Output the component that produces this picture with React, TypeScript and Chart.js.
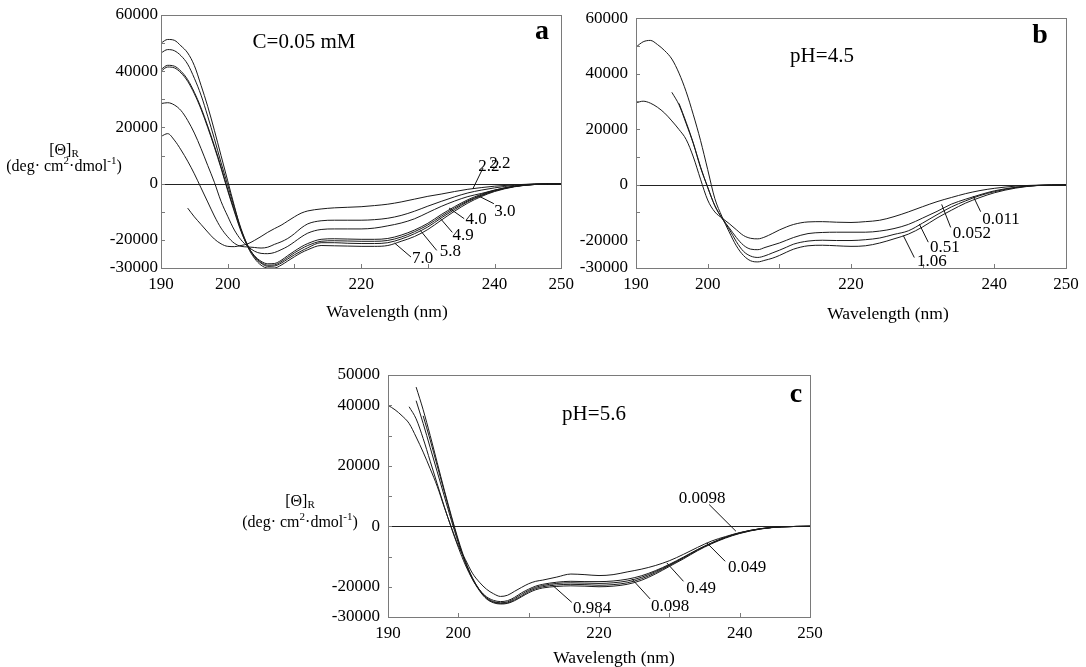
import React, { useEffect, useRef } from "react";
import { Chart, registerables } from "chart.js";

Chart.register(...registerables);

const FONT = "'Liberation Serif', 'Times New Roman', serif";

// Shared wavelength grid (nm)
const WAVELENGTH = [190, 191, 192, 193, 194, 195, 196, 197, 198, 199, 200, 201, 202, 203, 204, 205, 206, 207, 208, 209, 210, 211, 212, 214, 216, 218, 220, 222, 224, 226, 228, 230, 232, 234, 236, 238, 240, 243, 246, 250];

const X_TICK_LABELS = [190, 200, 220, 240, 250];
const Y_TICK_LABELS_AB = [60000, 40000, 20000, 0, -20000, -30000];
const Y_TICK_LABELS_C = [50000, 40000, 20000, 0, -20000, -30000];

// ---------- Panel a: C = 0.05 mM, different pH ----------
const A_PH22 = [null, null, null, null, -8700, -11800, -14500, -17200, -19700, -21400, -22300, -22400, -22000, -21400, -20200, -18800, -17300, -16000, -14800, -13300, -11800, -10500, -9700, -9000, -8600, -8400, -8200, -7800, -7300, -6500, -5500, -4500, -3700, -2800, -2000, -1400, -900, -400, -100, 0];
const A_PH22B = [16800, 17800, 15500, 12000, 8000, 3500, -1500, -6500, -11500, -15800, -18900, -21200, -22300, -22500, -22700, -22900, -22600, -21600, -20700, -19500, -17800, -15800, -14300, -13200, -13000, -13000, -13000, -12800, -12300, -11300, -9800, -8000, -6300, -4700, -3300, -2300, -1500, -600, -150, 0];
const A_PH30 = [28500, 28800, 28000, 26000, 22500, 18000, 12500, 6500, 500, -6300, -11600, -16500, -20000, -22300, -24000, -24800, -24900, -24500, -23500, -22300, -20700, -19000, -17600, -16300, -16100, -16100, -16100, -15800, -15000, -14000, -12500, -10300, -8100, -6200, -4600, -3500, -2300, -900, -200, 0];
const A_PH40 = [40000, 41500, 41200, 39400, 36400, 32000, 26500, 20000, 13000, 5500, -2500, -10000, -17000, -22200, -25600, -27600, -28500, -28400, -27300, -25600, -24000, -22500, -21300, -19800, -19600, -19700, -19800, -19800, -19500, -18300, -16500, -14100, -11000, -8200, -5700, -3800, -2300, -900, -250, 0];
const A_PH49 = [40600, 42100, 41800, 40000, 37000, 32500, 27000, 20500, 13500, 6000, -2000, -9500, -16500, -22000, -25800, -28000, -29000, -28900, -27800, -26200, -24600, -23200, -22000, -20500, -20300, -20400, -20500, -20500, -20200, -19000, -17100, -14700, -11600, -8700, -6100, -4100, -2500, -950, -280, 0];
const A_PH58 = [46500, 47700, 47300, 45500, 42500, 37500, 31500, 24000, 16000, 7500, -500, -8500, -16000, -22000, -26000, -28300, -29400, -29300, -28300, -26800, -25300, -24000, -22800, -21000, -21000, -21200, -21300, -21300, -21000, -19700, -17800, -15400, -12200, -9200, -6400, -4300, -2600, -1000, -300, 0];
const A_PH70 = [50000, 51300, 51000, 49000, 46500, 42000, 35000, 27500, 19000, 10000, 1000, -8000, -16500, -22500, -26500, -29000, -30000, -30000, -29000, -27500, -26000, -24600, -23500, -22000, -22100, -22200, -22300, -22300, -22000, -20500, -18800, -16300, -13000, -9800, -6900, -4600, -2800, -1100, -300, 0];

const A_LABELS = [
  { text: "2.2", x: 239.16, y: 6050 },
  { text: "2.2", x: 240.79, y: 7118 },
  { text: "3.0", x: 241.54, y: -9965 },
  { text: "4.0", x: 237.23, y: -12812 },
  { text: "4.9", x: 235.3, y: -18507 },
  { text: "5.8", x: 233.37, y: -24201 },
  { text: "7.0", x: 229.21, y: -26693 },
];
const A_LEADERS = [
  [236.74, -1886, 238.27, 5588],
  [237.82, -4627, 239.9, -7118],
  [233.18, -8648, 235.45, -12457],
  [231.69, -11851, 233.67, -17332],
  [228.87, -16620, 231.33, -23738],
  [225.01, -21105, 227.47, -26087],
];

// ---------- Panel b: pH 4.5, different concentrations ----------
const B_C0011 = [29500, 30100, 29400, 27900, 25800, 23000, 19900, 16300, 10000, 2000, -5500, -9800, -12000, -14000, -16200, -18300, -19300, -19500, -18800, -17600, -16300, -15200, -14300, -13400, -13300, -13500, -13600, -13300, -12800, -11500, -9800, -7900, -6100, -4600, -3200, -2100, -1300, -500, -150, 0];
const B_C0052 = [null, null, null, null, null, null, 29300, 22500, 15000, 6500, -1000, -7500, -12000, -15500, -19000, -21800, -23200, -23400, -22600, -21800, -21000, -20000, -19000, -17600, -17200, -17100, -17100, -17100, -16700, -15800, -14300, -12000, -9600, -7000, -5200, -3600, -2200, -900, -250, 0];
const B_C051 = [null, null, null, null, null, 33300, 28800, 22000, 14800, 6200, -800, -7600, -12100, -16000, -20500, -24000, -25700, -26200, -25600, -24600, -23600, -22500, -21400, -20300, -20000, -20100, -20100, -19800, -19200, -17900, -16600, -13800, -10800, -8000, -5800, -3900, -2500, -1000, -250, 0];
const B_C106 = [49600, 51500, 52000, 50500, 48300, 45300, 40200, 33500, 25200, 16000, 5500, -5000, -11500, -17000, -22000, -25500, -27400, -27800, -27200, -26500, -25500, -24300, -23200, -22000, -21800, -22000, -22200, -22000, -21000, -19500, -17800, -15200, -12000, -9200, -6600, -4600, -2900, -1200, -300, 0];

const B_LABELS = [
  { text: "0.011", x: 240.93, y: -12652 },
  { text: "0.052", x: 236.88, y: -17614 },
  { text: "0.51", x: 233.11, y: -22576 },
  { text: "1.06", x: 231.3, y: -27538 },
];
const B_LEADERS = [
  [237.06, -4147, 238.09, -9711],
  [232.65, -7088, 233.91, -15381],
  [229.53, -14176, 230.78, -20697],
  [227.3, -18323, 228.83, -26226],
];

// ---------- Panel c: pH 5.6, different concentrations ----------
const C_C00098 = [40000, 38500, 36500, 34000, 29500, 24500, 19000, 13200, 6300, -300, -6500, -11000, -15500, -18500, -20800, -22300, -23200, -22800, -21500, -20200, -19000, -18200, -17800, -16800, -15800, -16000, -16300, -16000, -15100, -14200, -13000, -11400, -9300, -7000, -4900, -3400, -2100, -800, -200, 0];
const C_C0049 = [null, null, null, 39500, 35500, 29000, 21500, 14000, 6500, -500, -7000, -12800, -17500, -21000, -23300, -24500, -24900, -24600, -23500, -22000, -20800, -19800, -19200, -18500, -18200, -18300, -18300, -18100, -17500, -16400, -14700, -12600, -10200, -7700, -5500, -3600, -2200, -800, -200, 0];
const C_C049 = [null, null, null, null, 41500, 34000, 26000, 18000, 10000, 2000, -5500, -12000, -17200, -21000, -23600, -24900, -25300, -25000, -23900, -22500, -21200, -20200, -19600, -18900, -18700, -18800, -18900, -18700, -18100, -16900, -15000, -12800, -10400, -7800, -5600, -3700, -2200, -800, -200, 0];
const C_C0098 = [null, null, null, null, 46000, 38500, 30000, 21000, 12000, 3500, -4500, -11500, -17000, -21000, -23800, -25100, -25500, -25300, -24300, -23000, -21600, -20600, -20000, -19400, -19200, -19300, -19500, -19300, -18700, -17400, -15400, -13000, -10500, -7900, -5600, -3700, -2300, -850, -200, 0];
const C_C0984 = [null, null, null, null, null, 36500, 28500, 20000, 11500, 3000, -5000, -12000, -17400, -21300, -24000, -25300, -25700, -25500, -24600, -23300, -22000, -21000, -20400, -19900, -19700, -19800, -20000, -19800, -19200, -17900, -15800, -13300, -10800, -8100, -5800, -3900, -2400, -900, -200, 0];

const C_LABELS = [
  { text: "0.0098", x: 234.67, y: 9169 },
  { text: "0.049", x: 241.07, y: -13672 },
  { text: "0.49", x: 234.52, y: -20621 },
  { text: "0.098", x: 230.11, y: -26579 },
  { text: "0.984", x: 219.02, y: -27241 },
];
const C_LEADERS = [
  [235.66, 7183, 239.47, -1655],
  [235.33, -5495, 237.94, -11585],
  [229.64, -12115, 232.01, -18205],
  [224.67, -17411, 227.27, -24031],
  [213.29, -19297, 216.13, -25156],
];

type TextSpec = { text: string; dx: number; dy: number; font: string };
type PanelSpec = {
  curves: (number | null)[][];
  yMin: number;
  yMax: number;
  yLabels: number[];
  labels: { text: string; x: number; y: number }[];
  leaders: number[][];
  texts: TextSpec[];
  yTitle?: { dx: number; b1: number; b2: number };
  pad: { top: number; right: number };
  yWidth: number;
  xHeight: number;
  yPad: number;
};

const PANEL_A: PanelSpec = {
  curves: [A_PH22, A_PH22B, A_PH30, A_PH40, A_PH49, A_PH58, A_PH70],
  yMin: -30000, yMax: 60000, yLabels: Y_TICK_LABELS_AB,
  labels: A_LABELS, leaders: A_LEADERS,
  texts: [
    { text: "C=0.05 mM", dx: 143, dy: 27, font: `21px ${FONT}` },
    { text: "a", dx: 381, dy: 17, font: `bold 28px ${FONT}` },
    { text: "Wavelength (nm)", dx: 226, dy: 297, font: `17.5px ${FONT}` },
  ],
  yTitle: { dx: -97, b1: -29, b2: -13 },
  pad: { top: 15, right: 15 }, yWidth: 161, xHeight: 62, yPad: 3,
};

const PANEL_B: PanelSpec = {
  curves: [B_C0011, B_C0052, B_C051, B_C106],
  yMin: -30000, yMax: 60000, yLabels: Y_TICK_LABELS_AB,
  labels: B_LABELS, leaders: B_LEADERS,
  texts: [
    { text: "pH=4.5", dx: 186, dy: 38, font: `21px ${FONT}` },
    { text: "b", dx: 404, dy: 18, font: `bold 28px ${FONT}` },
    { text: "Wavelength (nm)", dx: 252, dy: 296, font: `17.5px ${FONT}` },
  ],
  pad: { top: 14, right: 20 }, yWidth: 56, xHeight: 62, yPad: 8,
};

const PANEL_C: PanelSpec = {
  curves: [C_C00098, C_C0049, C_C049, C_C0098, C_C0984],
  yMin: -30000, yMax: 50000, yLabels: Y_TICK_LABELS_C,
  labels: C_LABELS, leaders: C_LEADERS,
  texts: [
    { text: "pH=5.6", dx: 206, dy: 39, font: `21px ${FONT}` },
    { text: "c", dx: 408, dy: 20, font: `bold 28px ${FONT}` },
    { text: "Wavelength (nm)", dx: 226, dy: 283, font: `17.5px ${FONT}` },
  ],
  yTitle: { dx: -88, b1: -20, b2: 1 },
  pad: { top: 45, right: 70 }, yWidth: 188, xHeight: 50, yPad: 8,
};

function toPoints(vals: (number | null)[]) {
  return WAVELENGTH.map((x, i) => ({ x, y: vals[i] })).filter((p) => p.y !== null);
}

function drawRich(ctx: CanvasRenderingContext2D, parts: { t: string; size: number; dy: number }[], cx: number, baseline: number) {
  const widths = parts.map((p) => {
    ctx.font = `${p.size}px ${FONT}`;
    return ctx.measureText(p.t).width;
  });
  const total = widths.reduce((a, b) => a + b, 0);
  let x = cx - total / 2;
  ctx.textAlign = "left";
  ctx.textBaseline = "alphabetic";
  parts.forEach((p, i) => {
    ctx.font = `${p.size}px ${FONT}`;
    ctx.fillText(p.t, x, baseline + p.dy);
    x += widths[i];
  });
}

function makeDecor(p: PanelSpec) {
  return {
    id: "decor",
    beforeDatasetsDraw(chart: any) {
      const { ctx, chartArea: ca } = chart;
      const y0 = Math.round(chart.scales.y.getPixelForValue(0)) + 0.5;
      ctx.save();
      ctx.strokeStyle = "#222";
      ctx.lineWidth = 1;
      ctx.beginPath();
      ctx.moveTo(ca.left, y0);
      ctx.lineTo(ca.right, y0);
      ctx.stroke();
      ctx.restore();
    },
    afterDraw(chart: any) {
      const { ctx, chartArea: ca } = chart;
      const xs = chart.scales.x;
      const ys = chart.scales.y;
      ctx.save();
      // frame
      ctx.strokeStyle = "#7a7a7a";
      ctx.lineWidth = 1;
      ctx.strokeRect(Math.round(ca.left) + 0.5, Math.round(ca.top) + 0.5, Math.round(ca.right - ca.left), Math.round(ca.bottom - ca.top));
      // inward ticks
      ctx.beginPath();
      xs.ticks.forEach((t: any) => {
        if (t.value <= xs.min || t.value >= xs.max) return;
        const px = Math.round(xs.getPixelForValue(t.value)) + 0.5;
        ctx.moveTo(px, ca.bottom);
        ctx.lineTo(px, ca.bottom - 4);
      });
      ys.ticks.forEach((t: any) => {
        if (t.value <= ys.min || t.value >= ys.max) return;
        const py = Math.round(ys.getPixelForValue(t.value)) + 0.5;
        ctx.moveTo(ca.left, py);
        ctx.lineTo(ca.left + 4, py);
      });
      ctx.stroke();
      // leaders
      ctx.strokeStyle = "#111";
      ctx.beginPath();
      p.leaders.forEach((l) => {
        ctx.moveTo(xs.getPixelForValue(l[0]), ys.getPixelForValue(l[1]));
        ctx.lineTo(xs.getPixelForValue(l[2]), ys.getPixelForValue(l[3]));
      });
      ctx.stroke();
      // curve labels
      ctx.fillStyle = "#000";
      ctx.textAlign = "center";
      ctx.textBaseline = "middle";
      ctx.font = `17px ${FONT}`;
      p.labels.forEach((l) => {
        ctx.fillText(l.text, xs.getPixelForValue(l.x), ys.getPixelForValue(l.y));
      });
      // free texts
      p.texts.forEach((t) => {
        ctx.font = t.font;
        ctx.textAlign = "center";
        ctx.textBaseline = "middle";
        ctx.fillText(t.text, ca.left + t.dx, ca.top + t.dy);
      });
      // y title
      if (p.yTitle) {
        const y0 = ys.getPixelForValue(0);
        const cx = ca.left + p.yTitle.dx;
        drawRich(ctx, [
          { t: "[Θ]", size: 16, dy: 0 },
          { t: "R", size: 11, dy: 2 },
        ], cx, y0 + p.yTitle.b1);
        drawRich(ctx, [
          { t: "(deg· cm", size: 16, dy: 0 },
          { t: "2", size: 11, dy: -7 },
          { t: "·dmol", size: 16, dy: 0 },
          { t: "-1", size: 11, dy: -7 },
          { t: ")", size: 16, dy: 0 },
        ], cx, y0 + p.yTitle.b2);
      }
      ctx.restore();
    },
  };
}

function buildConfig(p: PanelSpec): any {
  return {
    type: "line",
    data: {
      datasets: p.curves.map((c) => ({
        data: toPoints(c),
        borderColor: "#1a1a1a",
        borderWidth: 1,
        pointRadius: 0,
        fill: false,
        cubicInterpolationMode: "monotone",
      })),
    },
    options: {
      animation: false,
      responsive: false,
      maintainAspectRatio: false,
      layout: { padding: { left: 0, top: p.pad.top, right: p.pad.right, bottom: 0 } },
      plugins: { legend: { display: false }, tooltip: { enabled: false }, title: { display: false } },
      scales: {
        x: {
          type: "linear",
          min: 190,
          max: 250,
          grid: { display: false, drawTicks: false },
          border: { display: false },
          ticks: {
            stepSize: 10,
            autoSkip: false,
            maxRotation: 0,
            padding: 6,
            color: "#000",
            font: { family: FONT, size: 17 },
            callback: (v: number) => (X_TICK_LABELS.includes(v) ? String(v) : ""),
          },
          afterFit: (s: any) => {
            s.height = p.xHeight;
          },
        },
        y: {
          type: "linear",
          min: p.yMin,
          max: p.yMax,
          grid: { display: false, drawTicks: false },
          border: { display: false },
          ticks: {
            stepSize: 10000,
            autoSkip: false,
            padding: p.yPad,
            color: "#000",
            font: { family: FONT, size: 17 },
            callback: (v: number) => (p.yLabels.includes(v) ? String(v) : ""),
          },
          afterFit: (s: any) => {
            s.width = p.yWidth;
          },
        },
      },
    },
    plugins: [makeDecor(p)],
  };
}

function PanelChart({ spec, left, top, width, height }: { spec: PanelSpec; left: number; top: number; width: number; height: number }) {
  const ref = useRef<HTMLCanvasElement>(null);
  useEffect(() => {
    const chart = new Chart(ref.current as HTMLCanvasElement, buildConfig(spec));
    return () => chart.destroy();
  }, [spec]);
  return (
    <canvas
      ref={ref}
      width={width}
      height={height}
      style={{ position: "absolute", left, top, width, height }}
    />
  );
}

export default function App() {
  return (
    <div style={{ position: "fixed", left: 0, top: 0, width: 1086, height: 667, background: "#fff", overflow: "hidden" }}>
      <PanelChart spec={PANEL_A} left={0} top={0} width={580} height={330} />
      <PanelChart spec={PANEL_B} left={580} top={0} width={506} height={330} />
      <PanelChart spec={PANEL_C} left={200} top={330} width={680} height={337} />
    </div>
  );
}
